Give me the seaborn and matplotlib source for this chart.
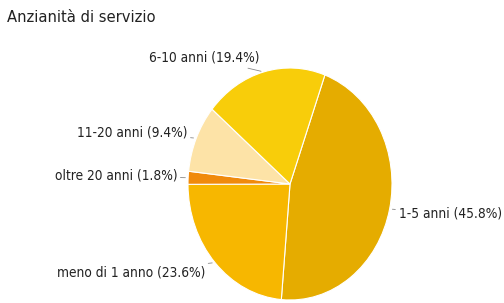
import numpy as np
import matplotlib
matplotlib.use("Agg")
import matplotlib.pyplot as plt
import seaborn as sns

sns.set_theme(style="white")
plt.rcParams['font.family'] = ['DejaVu Sans']
plt.rcParams['font.stretch'] = 'condensed'

categories = ["1-5 anni", "meno di 1 anno", "oltre 20 anni", "11-20 anni", "6-10 anni"]
values = [45.8, 23.6, 1.8, 9.4, 19.4]
colors = ["#E5AC00", "#F7B700", "#F08A0C", "#FDE3A7", "#F8CD0A"]

W, H = 504, 303
fig = plt.figure(figsize=(W / 100, H / 100), dpi=100)
ax = fig.add_axes([0, 0, 1, 1])

cx, cy, rx, ry = 290, 184, 102, 116

wedges, _ = ax.pie(values, colors=colors, startangle=70, counterclock=False,
                   radius=1, wedgeprops=dict(edgecolor="white", linewidth=0.8))

ax.set_aspect('auto')
ax.set_xlim(-cx / rx, (W - cx) / rx)
ax.set_ylim(-(H - cy) / ry, cy / ry)
ax.axis('off')

# label offsets (pixels) from wedge-edge anchor and alignment
offsets = {
    "1-5 anni": (9, -5, "left"),
    "meno di 1 anno": (-10, -10, "right"),
    "oltre 20 anni": (-11, 2, "right"),
    "11-20 anni": (-9, 6, "right"),
    "6-10 anni": (-4, 14, "right"),
}

for w, cat, v in zip(wedges, categories, values):
    ang = np.deg2rad((w.theta1 + w.theta2) / 2)
    x, y = np.cos(ang) * 1.0, np.sin(ang) * 1.0
    dx, dy, ha = offsets[cat]
    ax.annotate(f"{cat} ({v}%)", xy=(x, y),
                xytext=(dx * 0.72, dy * 0.72), textcoords="offset points",
                ha=ha, va="center", fontsize=9.8, color="#222222",
                arrowprops=dict(arrowstyle="-", color="#888888", lw=0.6,
                                shrinkA=0, shrinkB=2))

fig.text(7 / W, 1 - 18 / H, "Anzianità di servizio", ha="left", va="center",
         fontsize=11.8, color="#222222")

fig.savefig("out.png", dpi=100)
